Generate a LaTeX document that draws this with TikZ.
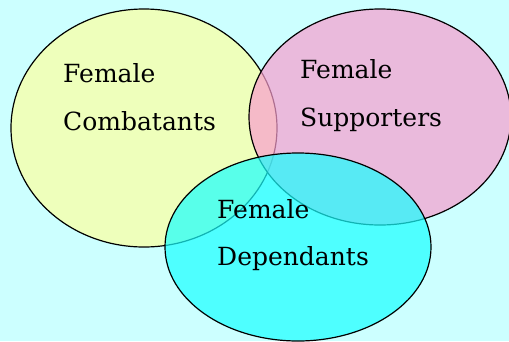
\documentclass[tikz,border=0pt]{standalone}
\usepackage{tikz}
\usepackage{fontspec}
\setmainfont{DejaVu Serif}

\definecolor{bgcyan}{RGB}{204,255,255}
\definecolor{venyellow}{RGB}{238,255,187}
\definecolor{venpink}{RGB}{248,158,206}
\definecolor{vencyan}{RGB}{25,255,255}

\begin{document}
\begin{tikzpicture}[x=1pt,y=-1pt]
                \tikzstyle{word}=[anchor=base west,inner sep=0pt,font=\fontsize{25}{30}\selectfont]
                \tikzstyle{set}=[draw=black,line width=1.2pt]
                \useasboundingbox (0,0) rectangle (509,341);
                \fill[bgcyan] (0,0) rectangle (509,341);
                \clip (0,0) rectangle (509,341);

                    \filldraw[set,fill=venyellow] (144,128) ellipse (133 and 119);
                    \filldraw[set,fill=venpink,fill opacity=0.7] (380,117) ellipse (131 and 108);
                    \filldraw[set,fill=vencyan,fill opacity=0.7] (298,247) ellipse (133 and 94);

                    \foreach \name/\x/\y/\txt in {comb-1/63/82/Female, comb-2/63/130/Combatants,
                                                  supp-1/300/78/Female, supp-2/300/126/Supporters,
                                                  dep-1/217/218/Female, dep-2/217/265/Dependants}
                        \node[word] (\name) at (\x,\y) {\txt};
            \end{tikzpicture}
\end{document}
